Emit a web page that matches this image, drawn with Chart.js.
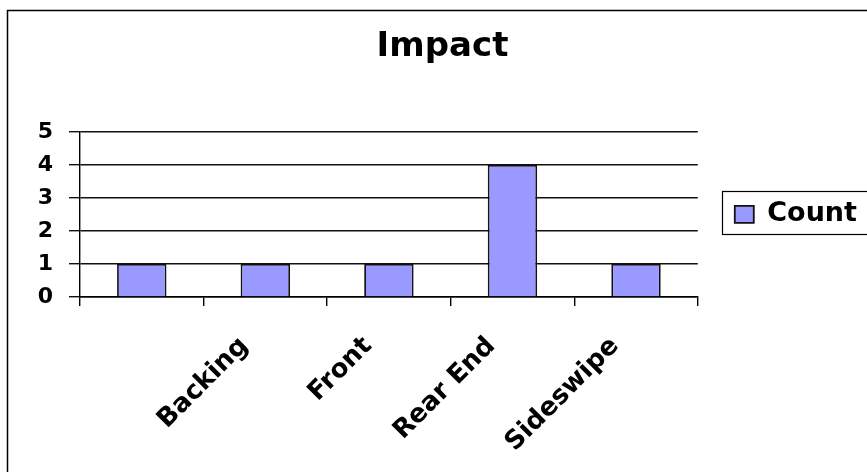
<!DOCTYPE html>
<html>
<head>
<meta charset="utf-8">
<script src="https://cdn.jsdelivr.net/npm/chart.js@4"></script>
<style>
  html, body { margin: 0; padding: 0; background: #fff; }
  #wrap { width: 867px; height: 472px; }
</style>
</head>
<body>
<div id="wrap"><canvas id="graficoImpacto" width="867" height="472"></canvas></div>
<script>
// datos del grafico
const categorias = ['', 'Backing', 'Front', 'Rear End', 'Sideswipe'];
const conteos = [1, 1, 1, 4, 1];
const nombreSerie = 'Count';
const tituloGrafico = 'Impact';
const marcasY = [0, 1, 2, 3, 4, 5];

const fuente = "'DejaVu Sans', Arial, sans-serif";

// marco exterior + borde de la leyenda
const marcoPlugin = {
  id: 'marco',
  beforeDraw(chart) {
    const ctx = chart.ctx;
    ctx.save();
    ctx.fillStyle = '#fff';
    ctx.fillRect(0, 0, chart.width, chart.height);
    ctx.strokeStyle = '#000';
    ctx.lineWidth = 1.5;
    ctx.strokeRect(7.5, 10.5, 900, 500);
    ctx.restore();
  },
  afterDraw(chart) {
    const hb = chart.legend && chart.legend.legendHitBoxes && chart.legend.legendHitBoxes[0];
    if (!hb) return;
    const ctx = chart.ctx;
    const cy = hb.top + hb.height / 2;
    ctx.save();
    ctx.strokeStyle = '#000';
    ctx.lineWidth = 1.2;
    ctx.strokeRect(Math.round(hb.left - 13) + 0.5, Math.round(cy - 23) + 0.5, 300, 43);
    ctx.restore();
  }
};

window.addEventListener('load', () => {
  const ctx = document.getElementById('graficoImpacto').getContext('2d');
  new Chart(ctx, {
    type: 'bar',
    data: {
      labels: categorias,
      datasets: [{
        label: nombreSerie,
        data: conteos,
        backgroundColor: '#9999FF',
        borderColor: '#111',
        borderWidth: 1.8,
        categoryPercentage: 1,
        barPercentage: 0.4
      }]
    },
    plugins: [marcoPlugin],
    options: {
      responsive: false,
      animation: false,
      layout: { padding: { left: 18, right: 0, top: 0, bottom: 0 } },
      plugins: {
        title: {
          display: true,
          text: tituloGrafico,
          color: '#000',
          font: { family: fuente, size: 34, weight: 'bold', lineHeight: 1.2 },
          padding: { top: 27, bottom: 64 }
        },
        legend: {
          display: true,
          position: 'right',
          fullSize: false,
          labels: {
            color: '#000',
            font: { family: fuente, size: 27, weight: 'bold' },
            boxWidth: 19,
            boxHeight: 17,
            padding: 37
          }
        },
        tooltip: { enabled: false }
      },
      scales: {
        x: {
          afterFit: scale => { scale.height = 175; },
          grid: {
            offset: true,
            drawOnChartArea: false,
            color: '#000',
            lineWidth: 1.4,
            tickLength: 9,
            tickColor: '#000'
          },
          border: { display: true, color: '#000', width: 1.4 },
          ticks: {
            color: '#000',
            font: { family: fuente, size: 26, weight: 'bold' },
            minRotation: 45,
            maxRotation: 45,
            autoSkip: false,
            labelOffset: -21,
            padding: 25
          }
        },
        y: {
          min: 0,
          max: 5,
          afterFit: scale => { scale.width = 62; },
          afterBuildTicks: scale => { scale.ticks = marcasY.map(v => ({ value: v })); },
          grid: {
            color: '#111',
            lineWidth: 1.4,
            tickLength: 11,
            tickColor: '#111'
          },
          border: { display: true, color: '#000', width: 1.4 },
          ticks: {
            color: '#000',
            font: { family: fuente, size: 22, weight: 'bold' },
            padding: 16
          }
        }
      }
    }
  });
});
</script>
</body>
</html>
